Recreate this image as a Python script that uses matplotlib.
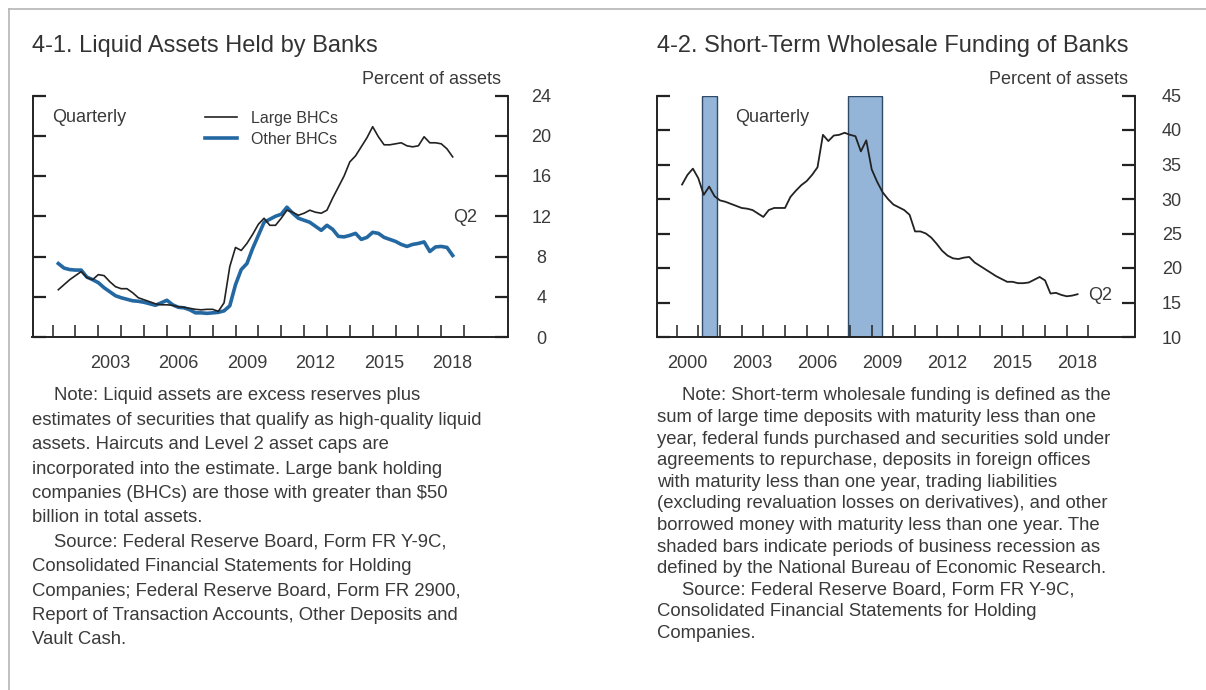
import matplotlib.pyplot as plt
import numpy as np
from matplotlib.lines import Line2D

plt.rcParams['font.family'] = ['Liberation Sans', 'DejaVu Sans']
plt.rcParams['text.color'] = '#3a3a3a'

# 4-1: quarterly, 2001Q1 - 2018Q2 (percent of assets)
large_bhcs = [4.7, 5.2, 5.7, 6.1, 6.5, 5.9, 5.7, 6.2, 6.1, 5.5, 5.0, 4.8, 4.8, 4.4,
              3.9, 3.7, 3.5, 3.3, 3.2, 3.2, 3.15, 3.0, 2.95, 2.85, 2.75, 2.7, 2.75,
              2.75, 2.55, 3.4, 7.0, 8.9, 8.6, 9.3, 10.2, 11.2, 11.8, 11.1, 11.1, 11.8,
              12.6, 12.4, 12.1, 12.3, 12.6, 12.4, 12.3, 12.6, 13.8, 14.9, 16.0, 17.4,
              18.0, 18.9, 19.8, 20.9, 19.9, 19.1, 19.1, 19.2, 19.3, 19.0, 18.9, 19.0,
              19.9, 19.3, 19.3, 19.2, 18.7, 17.9]
other_bhcs = [7.3, 6.85, 6.7, 6.65, 6.65, 5.95, 5.7, 5.4, 4.9, 4.5, 4.1, 3.9, 3.75, 3.6,
              3.55, 3.45, 3.3, 3.15, 3.4, 3.65, 3.2, 2.95, 2.9, 2.7, 2.4, 2.4, 2.35,
              2.4, 2.45, 2.6, 3.1, 5.2, 6.7, 7.3, 8.8, 10.1, 11.4, 11.7, 12.0, 12.2,
              12.9, 12.3, 11.8, 11.6, 11.4, 11.0, 10.6, 11.1, 10.7, 10.0, 9.95, 10.1,
              10.3, 9.7, 9.9, 10.4, 10.3, 9.9, 9.7, 9.5, 9.2, 9.0, 9.2, 9.3, 9.45, 8.5,
              8.95, 9.0, 8.9, 8.1]

# 4-2: quarterly, 2000Q1 - 2018Q2 (percent of assets)
wholesale = [32.1, 33.5, 34.4, 33.0, 30.6, 31.8, 30.4, 29.8, 29.6, 29.3, 29.0, 28.7,
             28.6, 28.4, 27.9, 27.4, 28.4, 28.7, 28.7, 28.7, 30.3, 31.2, 32.0, 32.6,
             33.5, 34.6, 39.3, 38.4, 39.2, 39.3, 39.6, 39.3, 39.1, 36.9, 38.5, 34.3,
             32.5, 31.0, 30.0, 29.2, 28.8, 28.4, 27.7, 25.3, 25.3, 25.0, 24.4, 23.5,
             22.5, 21.8, 21.4, 21.3, 21.5, 21.6, 20.8, 20.3, 19.8, 19.3, 18.8, 18.4,
             18.0, 18.0, 17.8, 17.8, 17.9, 18.3, 18.7, 18.2, 16.3, 16.4, 16.1, 15.9,
             16.0, 16.2]
recessions = [(2001.17, 2001.87), (2007.92, 2009.46)]

notes1 = ["Note: Liquid assets are excess reserves plus",
          "estimates of securities that qualify as high-quality liquid",
          "assets. Haircuts and Level 2 asset caps are",
          "incorporated into the estimate. Large bank holding",
          "companies (BHCs) are those with greater than $50",
          "billion in total assets.",
          "Source: Federal Reserve Board, Form FR Y-9C,",
          "Consolidated Financial Statements for Holding",
          "Companies; Federal Reserve Board, Form FR 2900,",
          "Report of Transaction Accounts, Other Deposits and",
          "Vault Cash."]
notes2 = ["Note: Short-term wholesale funding is defined as the",
          "sum of large time deposits with maturity less than one",
          "year, federal funds purchased and securities sold under",
          "agreements to repurchase, deposits in foreign offices",
          "with maturity less than one year, trading liabilities",
          "(excluding revaluation losses on derivatives), and other",
          "borrowed money with maturity less than one year. The",
          "shaded bars indicate periods of business recession as",
          "defined by the National Bureau of Economic Research.",
          "Source: Federal Reserve Board, Form FR Y-9C,",
          "Consolidated Financial Statements for Holding",
          "Companies."]

x1 = 2001.25 + 0.25 * np.arange(len(large_bhcs))
x2 = 2000.25 + 0.25 * np.arange(len(wholesale))

W, H = 1206, 690
fig = plt.figure(figsize=(W / 100, H / 100), dpi=100)


def box(x0, y0, x1_, y1_):
    return [x0 / W, 1 - y1_ / H, (x1_ - x0) / W, (y1_ - y0) / H]


def ftext(x, y, s, **kw):
    fig.text(x / W, 1 - y / H, s, **kw)


ax1 = fig.add_axes(box(32.5, 95.5, 508, 337))
ax2 = fig.add_axes(box(656.5, 95.5, 1135, 337))


def style(ax, xlim, years, labelyears, ylim, ystep, pad):
    ax.spines['top'].set_visible(False)
    for s in ('left', 'right', 'bottom'):
        ax.spines[s].set_linewidth(1.4)
        ax.spines[s].set_color('#222222')
    ax.set_xlim(*xlim)
    ax.set_ylim(*ylim)
    ax.set_yticks(np.arange(ylim[0], ylim[1] + 1, ystep))
    ax.tick_params(axis='y', direction='in', length=9.5, width=1.6, color='#222222',
                   left=True, right=True, labelleft=False, labelright=True,
                   pad=pad, labelsize=13, labelcolor='#3a3a3a')
    plt.setp(ax.get_yticklabels(), ha='center')
    ax.set_xticks(years)
    ax.set_xticklabels([])
    ax.set_xticks([y + 0.5 for y in labelyears], [str(y) for y in labelyears], minor=True)
    ax.tick_params(axis='x', which='major', direction='in', length=8.5, width=1.1,
                   color='#222222')
    ax.tick_params(axis='x', which='minor', length=0, pad=13, labelsize=13,
                   labelcolor='#3a3a3a')


style(ax1, (2000.12, 2020.92), range(2001, 2020), range(2003, 2019, 3), (0, 24), 4, 24)
style(ax2, (1999.07, 2021.15), range(2000, 2020), range(2000, 2019, 3), (10, 45), 5, 26.5)

ax1.plot(x1, large_bhcs, color='#222222', lw=1.2, label='Large BHCs', zorder=3)
ax1.plot(x1, other_bhcs, color='#2468a2', lw=2.6, label='Other BHCs', zorder=2)
ax1.legend(loc='upper left', bbox_to_anchor=((205 - 32.5) / 475.5, (337 - 111) / 241.5),
           frameon=False, fontsize=11.5, borderaxespad=0, borderpad=0,
           handlelength=2.0, handletextpad=0.9, labelspacing=0.35,
           labelcolor='#3a3a3a')

for a, b in recessions:
    ax2.axvspan(a, b, facecolor='#94b5d8', edgecolor='#2e4a66', lw=1.0, zorder=1)
ax2.plot(x2, wholesale, color='#222222', lw=1.3, zorder=3)

# titles and annotations
ftext(32, 46, '4-1. Liquid Assets Held by Banks', fontsize=17, va='center', color='#333333')
ftext(657, 46, '4-2. Short-Term Wholesale Funding of Banks', fontsize=17, va='center',
      color='#333333')
ftext(501, 80, 'Percent of assets', fontsize=13, ha='right', va='center')
ftext(1128, 80, 'Percent of assets', fontsize=13, ha='right', va='center')
ftext(52, 118, 'Quarterly', fontsize=13, va='center')
ftext(735, 118, 'Quarterly', fontsize=13, va='center')
ftext(453, 218, 'Q2', fontsize=13, va='center')
ftext(1088, 296, 'Q2', fontsize=13, va='center')

for i, line in enumerate(notes1):
    indent = 54 if i in (0, 6) else 32.5
    ftext(indent, 396 + 24.4 * i, line, fontsize=13.3, va='center')
for i, line in enumerate(notes2):
    indent = 682.5 if i in (0, 9) else 657
    ftext(indent, 396 + 21.6 * i, line, fontsize=13.3, va='center')

# thin page frame
fig.add_artist(Line2D([8.5 / W, 8.5 / W], [0, 1 - 8.5 / H], color='#b5b5b5', lw=1.2))
fig.add_artist(Line2D([8.5 / W, 1], [1 - 8.5 / H, 1 - 8.5 / H], color='#b5b5b5', lw=1.2))

fig.savefig('out.png', dpi=100)
